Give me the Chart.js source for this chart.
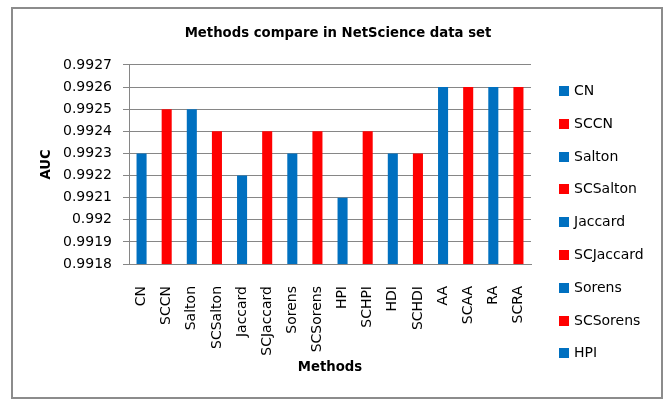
<!DOCTYPE html>
<html>
<head>
<meta charset="utf-8">
<title>Methods compare in NetScience data set</title>
<script src="https://cdn.jsdelivr.net/npm/chart.js@4/dist/chart.umd.min.js"></script>
<style>
  html, body { margin: 0; padding: 0; background: #ffffff; }
  #wrap { position: relative; width: 666px; height: 400px; }
  #frame {
    position: absolute; left: 11px; top: 7px; width: 648px; height: 388px;
    border: 2px solid #8c8c8c; pointer-events: none;
  }
</style>
</head>
<body>
<div id="wrap">
  <canvas id="chart" width="666" height="400"></canvas>
  <div id="frame"></div>
</div>
<script>
// Link-prediction methods and their AUC on the NetScience network
const categories = ['CN', 'SCCN', 'Salton', 'SCSalton', 'Jaccard', 'SCJaccard', 'Sorens', 'SCSorens',
                    'HPI', 'SCHPI', 'HDI', 'SCHDI', 'AA', 'SCAA', 'RA', 'SCRA'];
const aucValues = [0.9923, 0.9925, 0.9925, 0.9924, 0.9922, 0.9924, 0.9923, 0.9924,
                   0.9921, 0.9924, 0.9923, 0.9923, 0.9926, 0.9926, 0.9926, 0.9926];
// plain methods in blue, their SC variants in red
const methodColors = ['#0070C0', '#FF0000', '#0070C0', '#FF0000', '#0070C0', '#FF0000', '#0070C0', '#FF0000',
                      '#0070C0', '#FF0000', '#0070C0', '#FF0000', '#0070C0', '#FF0000', '#0070C0', '#FF0000'];
// value axis range and step
const yTicks = [0.9918, 0.9919, 0.9920, 0.9921, 0.9922, 0.9923, 0.9924, 0.9925, 0.9926, 0.9927];

const FONT = 'DejaVu Sans';
const GRID = '#868686';

// Legend listing each category, laid out as its own box on the right side
const categoryLegend = {
  id: 'categoryLegend',
  start(chart) {
    const box = {
      position: 'right', weight: 100, fullSize: false, options: {},
      left: 0, top: 0, right: 0, bottom: 0, width: 0, height: 0,
      isHorizontal() { return false; },
      update(maxWidth, maxHeight) {
        this.width = chart.options.plugins.categoryLegend.width;
        this.height = maxHeight;
      },
      draw() {
        const o = chart.options.plugins.categoryLegend;
        const ctx = chart.ctx;
        const labels = chart.data.labels;
        const colors = chart.data.datasets[0].backgroundColor;
        ctx.save();
        ctx.font = o.fontSize + 'px "' + FONT + '"';
        ctx.textBaseline = 'middle';
        ctx.textAlign = 'left';
        let y = this.top + o.firstRow;
        for (let i = 0; i < labels.length && y + o.rowStep / 2 <= chart.height - o.bottomGap; i++, y += o.rowStep) {
          ctx.fillStyle = colors[i];
          ctx.fillRect(this.left + o.inset, Math.round(y - o.swatch / 2), o.swatch, o.swatch);
          ctx.fillStyle = o.color;
          ctx.fillText(labels[i], this.left + o.inset + o.swatch + o.gap, y + 0.5);
        }
        ctx.restore();
      }
    };
    Chart.layouts.addBox(chart, box);
  }
};

new Chart(document.getElementById('chart'), {
  type: 'bar',
  data: {
    labels: categories,
    datasets: [{
      label: 'AUC',
      data: aucValues,
      backgroundColor: methodColors,
      borderWidth: 0,
      categoryPercentage: 1.0,
      barPercentage: 0.4
    }]
  },
  plugins: [categoryLegend],
  options: {
    responsive: false,
    animation: false,
    events: [],
    layout: { padding: { left: 20, right: 10, top: 10, bottom: 10 } },
    plugins: {
      legend: { display: false },
      tooltip: { enabled: false },
      title: {
        display: true,
        text: 'Methods compare in NetScience data set',
        color: '#000000',
        font: { family: FONT, size: 13.25, weight: 'bold' },
        padding: { top: 16, bottom: 23 }
      },
      categoryLegend: {
        width: 125, inset: 28, firstRow: 26, rowStep: 32.8,
        swatch: 10, gap: 5, fontSize: 14, color: '#000000', bottomGap: 20
      }
    },
    scales: {
      x: {
        grid: { display: false },
        border: { display: true, color: GRID, width: 1 },
        ticks: {
          color: '#000000',
          font: { family: FONT, size: 14 },
          autoSkip: false, minRotation: 90, maxRotation: 90, padding: 14
        },
        title: {
          display: true, text: 'Methods', color: '#000000',
          font: { family: FONT, size: 13.25, weight: 'bold' },
          padding: { top: 0, bottom: 14 }
        },
        afterFit(scale) { scale.height = 126; }
      },
      y: {
        min: yTicks[0],
        max: yTicks[yTicks.length - 1],
        afterBuildTicks(scale) { scale.ticks = yTicks.map(v => ({ value: v })); },
        grid: { color: GRID, lineWidth: 1, drawTicks: true, tickLength: 6 },
        border: { display: true, color: GRID, width: 1 },
        ticks: {
          color: '#000000',
          font: { family: FONT, size: 14 },
          padding: 11,
          callback: v => String(parseFloat(Number(v).toFixed(4)))
        },
        title: {
          display: true, text: 'AUC', color: '#000000',
          font: { family: FONT, size: 13.25, weight: 'bold' },
          padding: { top: 19, bottom: 0 }
        },
        afterFit(scale) { scale.width = 109; }
      }
    }
  }
});
</script>
</body>
</html>
